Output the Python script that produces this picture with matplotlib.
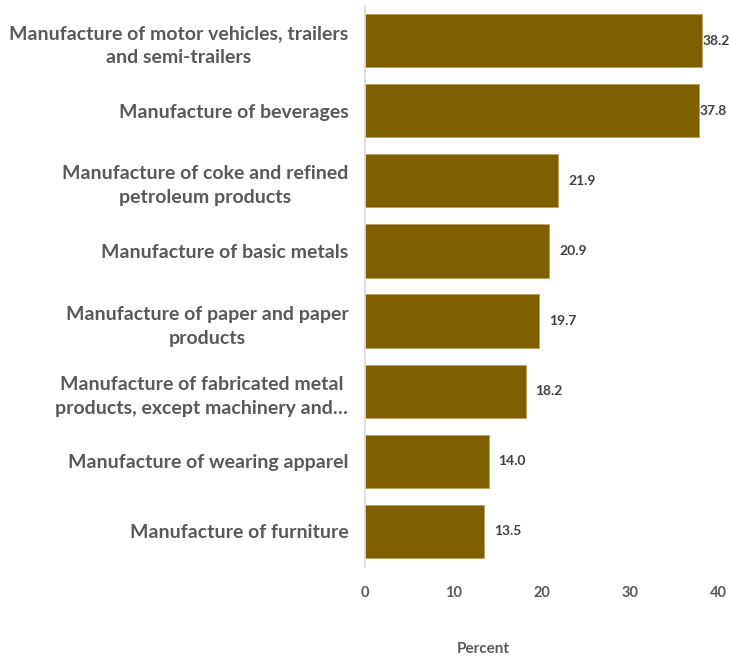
import matplotlib
matplotlib.use("Agg")
import matplotlib.pyplot as plt

categories = [
    "Manufacture of motor vehicles, trailers\nand semi-trailers",
    "Manufacture of beverages",
    "Manufacture of coke and refined\npetroleum products",
    "Manufacture of basic metals",
    "Manufacture of paper and paper\nproducts",
    "Manufacture of fabricated metal\nproducts, except machinery and…",
    "Manufacture of wearing apparel",
    "Manufacture of furniture",
]
values = [38.2, 37.8, 21.9, 20.9, 19.7, 18.2, 14.0, 13.5]
xticks = [0, 10, 20, 30, 40]

plt.rcParams['font.family'] = ['Lato', 'DejaVu Sans']

fig = plt.figure(figsize=(7.29, 6.56), dpi=100)
ax = fig.add_axes([0.5007, 0.1364, 0.4843, 0.8552])

y = list(range(len(categories)))
ax.barh(y, values, height=0.76, color="#7F6000", edgecolor="#BFA060", linewidth=0.6)
ax.set_ylim(len(categories) - 0.5, -0.5)
ax.set_xlim(0, 40)
ax.set_yticks(y)
ax.set_yticklabels(categories, fontsize=14, fontweight="bold", color="#595959",
                   ha="right", multialignment="center", linespacing=1.5)
ax.set_xticks(xticks)
ax.set_xticklabels([str(t) for t in xticks], fontsize=10.5, fontweight="bold", color="#595959")
ax.tick_params(axis="both", length=0)
ax.tick_params(axis="x", pad=14)
ax.tick_params(axis="y", pad=12)

for s in ["top", "right", "bottom"]:
    ax.spines[s].set_visible(False)
ax.spines["left"].set_color("#D9D9D9")
ax.spines["left"].set_linewidth(1.2)

for yi, v in zip(y, values):
    ax.annotate(f"{v:.1f}", xy=(v, yi), xytext=(0.5 if v > 35 else 7, 0),
                textcoords="offset points", va="center", ha="left",
                fontsize=10, fontweight="bold", color="#404040", annotation_clip=False)

fig.text(483 / 729, 1 - 649 / 656, "Percent", fontsize=11, fontweight="bold",
         color="#595959", ha="center", va="center")

fig.savefig("out.png", dpi=100)
